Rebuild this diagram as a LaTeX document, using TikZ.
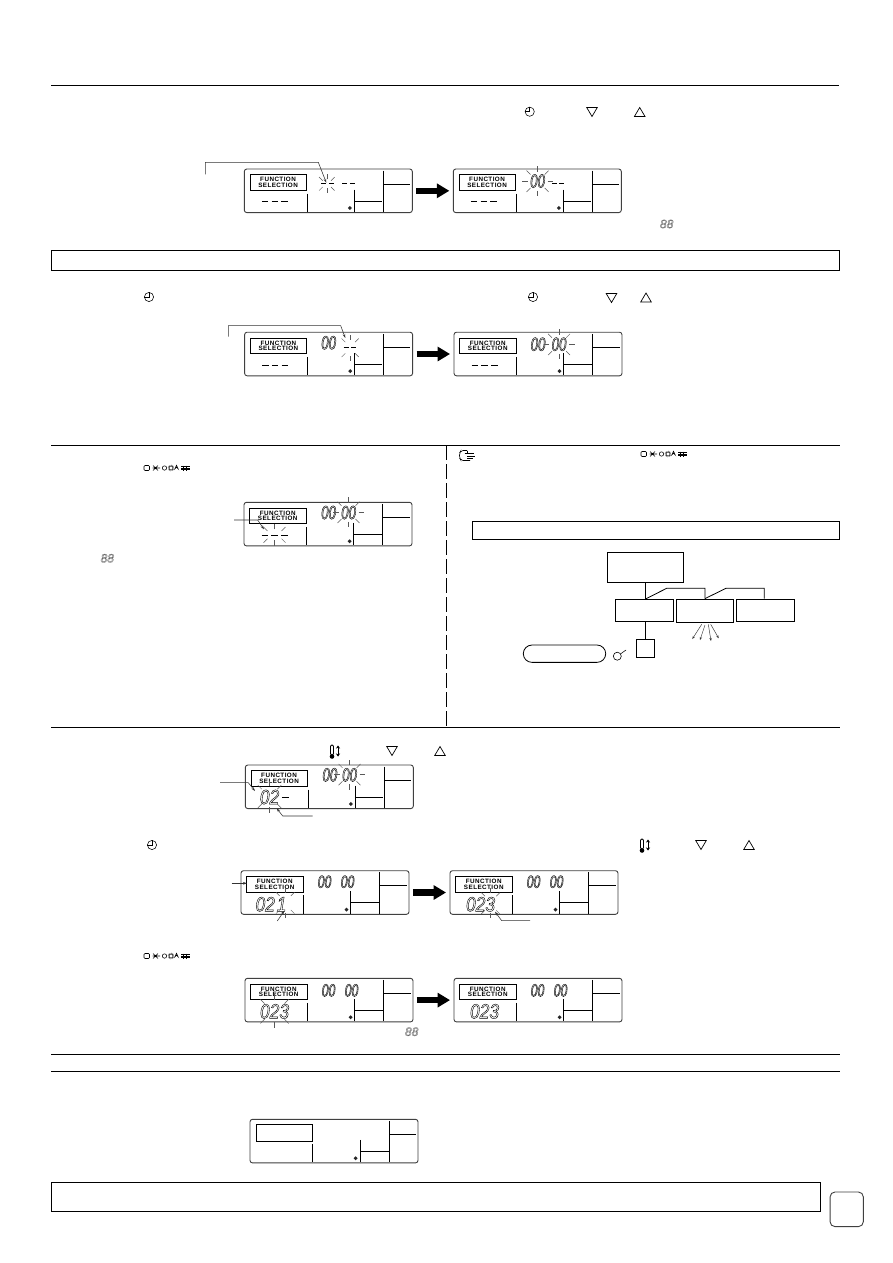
\documentclass[tikz,border=0pt]{standalone}
\usepackage{fontspec}
\setmainfont{Liberation Sans}
\newfontfamily\lcdfont[LetterSpace=7]{Liberation Sans}
\newfontfamily\segfont[FakeStretch=.70]{Liberation Sans}
\newfontfamily\segwide[FakeStretch=.85]{Liberation Sans}
\usetikzlibrary{arrows.meta,calc}
\newcommand{\hollow}[1]{\special{pdf:code q 1 Tr 0.42 w}#1\special{pdf:code Q}}
\newcommand{\hollowthin}[1]{\special{pdf:code q 1 Tr 0.3 w 0.35 G}#1\special{pdf:code Q}}
\tikzset{
  x=1pt,y=-1pt,
  rulel/.style={line width=.8pt,black},
  boxl/.style={draw=black,line width=.8pt},
  lcdbox/.style={draw=black!75,line width=.9pt,rounded corners=2.5pt,minimum width=168pt,minimum height=43.6pt,inner sep=0pt},
  lcdl/.style={line width=.7pt,black},
  fnbox/.style={draw=black,line width=.8pt,minimum width=56.3pt,minimum height=15.4pt,inner sep=0pt,
     align=center,font=\lcdfont\bfseries\fontsize{6.3}{5.5}\selectfont},
  seglarge/.style={inner sep=0pt,font=\segfont\itshape\fontsize{19}{19}\selectfont},
  segsmall/.style={inner sep=0pt,font=\segfont\itshape\fontsize{17.5}{17.5}\selectfont},
  seglow/.style={inner sep=0pt,font=\segwide\itshape\fontsize{20.5}{20.5}\selectfont},
  eightgray/.style={inner sep=0pt,font=\itshape\fontsize{12}{12}\selectfont},
  ray/.style={line width=.5pt,black!65},
  dashl/.style={line width=1pt,black},
  fatarrow/.style={line width=6.5pt,-{Triangle[length=12.5pt,width=14pt]},shorten <=3.5pt,shorten >=3.5pt},
  leader/.style={line width=.55pt,black!80,-{Stealth[length=4pt,width=2.6pt]}},
  flowbox/.style={draw=black,line width=.8pt,inner sep=0pt},
  flowl/.style={line width=.8pt,black},
  iconl/.style={line width=.55pt,black},
  thinarrow/.style={line width=.45pt,black!80,-{Stealth[length=3pt,width=2.2pt]}},
}
\newcommand{\allside}{0,45,90,135,180,225,270,315}
\newcommand{\noside}{45,90,135,225,270,315}
% blink rays: centre, half-widths, length, list of angles
\newcommand{\blink}[6][\allside]{%
  \foreach \ang in #1 {\draw[ray] ({#2+#4*cos(\ang)},{#3+#5*sin(\ang)}) -- ({#2+(#4+#6)*cos(\ang)},{#3+(#5+#6)*sin(\ang)});}}
% the body of the display, relative to its north-west corner
\newcommand{\lcdbody}[1]{%
  \draw[lcdl] (63,25) -- (63,43.6);
  \draw[lcdl] (110,21) -- (110,43.6);
  \draw[lcdl] (110,32.3) -- (138,32.3);
  \draw[lcdl] (139,2) -- (139,43.6);
  \draw[lcdl] (139,15.3) -- (166,15.3);
  \fill[black!85] (106,37.4) -- (108,39.4) -- (106,41.4) -- (104,39.4) -- cycle;
  \node[fnbox] (#1fn) at (34.2,14) {FUNCTION\\SELECTION};
}
\newcommand{\lcd}[3]{\node[lcdbox] (#1) at (#2+84,#3+21.8) {};}
\newcommand{\lcdnofn}[1]{%
  \draw[lcdl] (63,25) -- (63,43.6);
  \draw[lcdl] (111,21) -- (111,43.6);
  \draw[lcdl] (111,32.3) -- (139,32.3);
  \draw[lcdl] (140,2) -- (140,43.6);
  \draw[lcdl] (140,15.3) -- (166,15.3);
  \fill[black!85] (106,37.4) -- (108,39.4) -- (106,41.4) -- (104,39.4) -- cycle;
  \node[draw=black,line width=.8pt,minimum width=56.5pt,minimum height=16.4pt,inner sep=0pt] (#1fn) at (34.8,14) {};
}
\newcommand{\lowdash}{\draw[dashl] (18,33.3) -- +(6.5,0) (27.8,33.3) -- +(6.5,0) (37.5,33.3) -- +(6.5,0);}
\newcommand{\updash}[2]{\draw[dashl] (#1,#2) -- +(5,0) (#1+7.5,#2) -- +(5,0);}
\newcommand{\clock}[2]{\draw[iconl] (#1,#2) circle (4.6);
  \draw[iconl] (#1,#2-4.6) -- (#1,#2) -- (#1-4.6,#2);}
\newcommand{\tridown}[2]{\draw[iconl,line width=.7pt] (#1-5.3,#2-4.5) -- (#1+5.3,#2-4.5) -- (#1,#2+4.5) -- cycle;}
\newcommand{\triup}[2]{\draw[iconl,line width=.7pt] (#1-5.3,#2+4.5) -- (#1+5.3,#2+4.5) -- (#1,#2-4.5) -- cycle;}
\newcommand{\modeicons}[2]{%
  \begin{scope}[shift={(#1,#2)}]
    \draw[iconl,rounded corners=1pt] (0,-2.5) rectangle (5.5,2.5);
    \draw[iconl] (9,-2.5) -- (14,2.5) (14,-2.5) -- (9,2.5) (8.5,0) -- (16,0);
    \fill (11.5,0) circle (1.2);
    \draw[iconl] (20.5,0) circle (2.2);
    \draw[iconl] (27,0) circle (2);
    \draw[iconl,densely dotted] (27,0) circle (3);
    \draw[iconl] (32.5,-2.8) -- (34.2,1) arc (0:-180:1.7) -- cycle;
    \draw[iconl] (37,-1.5) -- (46,-1.5) (37,0) -- (46,0) (37,1.5) -- (46,1.5) (39,-2.5) -- (39,2.5) (42,-2.5) -- (42,2.5);
  \end{scope}}
\newcommand{\thermo}[2]{%
  \begin{scope}[shift={(#1,#2)}]
    \draw[iconl,line width=.8pt,rounded corners=1.2pt] (-4.5,-6) rectangle (-1.5,4);
    \fill (-3,5.5) circle (2.3);
    \draw[line width=.9pt,{Stealth[length=3pt,width=4pt]}-{Stealth[length=3pt,width=4pt]}] (3,-5.5) -- (3,5.5);
  \end{scope}}
\begin{document}
\begin{tikzpicture}
\useasboundingbox (0,0) rectangle (893,1263);
\fill[white] (0,0) rectangle (893,1263);
% rules and frames
\draw[rulel] (51,85.5) -- (839,85.5);
\node[boxl,minimum width=788pt,minimum height=20pt,inner sep=0pt] (bandA) at (445,260.3) {};
\draw[rulel] (51,445) -- (840,445);
\draw[rulel] (51,727) -- (840,727);
\draw[rulel] (51,1054.3) -- (840,1054.3);
\draw[rulel] (51,1071.3) -- (840,1071.3);
\draw[line width=1pt,dash pattern=on 15pt off 4pt] (446.7,445) -- (446.7,727);
\node[boxl,minimum width=366.8pt,minimum height=18.3pt,inner sep=0pt] (bandB) at (655.6,530.2) {};
\node[boxl,minimum width=769.5pt,minimum height=29.3pt,inner sep=0pt] (bandC) at (435.8,1196.7) {};
\node[draw=black!75,line width=.9pt,rounded corners=5pt,minimum width=33.3pt,minimum height=34.7pt,inner sep=0pt] (pagebox) at (846.7,1209.3) {};
% displays, row 1
\lcd{dA}{244.3}{169}
\lcd{dB}{453.3}{169}
\begin{scope}[shift={(dA.north west)}]
  \lcdbody{dA}\lowdash\updash{77.5}{15.3}\updash{98.5}{15.3}
  \blink[\noside]{83}{15.3}{6}{4.5}{5}
\end{scope}
\begin{scope}[shift={(dB.north west)}]
  \lcdbody{dB}\lowdash\updash{99}{15.3}
  \node[seglarge] (dBt) at (84.7,12.5) {\hollow{00}};
  \blink{84.7}{12.7}{10}{9.5}{5.5}
\end{scope}
\draw[fatarrow] (dA.east) -- (dB.west);
% row 2
\lcd{dC}{244.6}{332.2}
\lcd{dD}{454}{332.2}
\begin{scope}[shift={(dC.north west)}]
  \lcdbody{dC}\lowdash\updash{99.5}{15.5}
  \node[seglarge] (dCt) at (84.5,11) {\hollow{00}};
  \blink[\noside]{106}{16}{7}{8}{5}
\end{scope}
\begin{scope}[shift={(dD.north west)}]
  \lcdbody{dD}\lowdash
  \node[seglarge] (dDt) at (84.5,12.5) {\hollow{00}};
  \node[seglarge] (dDu) at (105.5,12.5) {\hollow{00}};
  \blink{105.5}{12.7}{10}{9.5}{5.5}
\end{scope}
\draw[fatarrow] (dC.east) -- (dD.west);
% row 3
\lcd{dE}{244}{502.3}
\begin{scope}[shift={(dE.north west)}]
  \lcdbody{dE}\lowdash
  \node[seglarge] (dEt) at (85,10.7) {\hollow{00}};
  \node[seglarge] (dEu) at (105,10.7) {\hollow{00}};
  \blink{105}{10.5}{10}{9.5}{5.5}
  \blink[\noside]{31}{33}{10}{5.5}{5.5}
\end{scope}
% row 4
\lcd{dF}{245.3}{765}
\begin{scope}[shift={(dF.north west)}]
  \lcdbody{dF}
  \node[seglarge] (dFt) at (85,10.3) {\hollow{00}};
  \node[seglarge] (dFu) at (104.7,10.3) {\hollow{00}};
  \blink{104.7}{10}{10}{9.5}{5.5}
  \node[seglow] (dFv) at (24.7,32.5) {\hollow{02}};
  \draw[dashl] (37,33.3) -- (43.7,33.3);
  \blink[\noside]{24.7}{32}{11}{10.5}{5.5}
\end{scope}
% row 5
\lcd{dG}{241}{870.7}
\lcd{dH}{450}{870.7}
\begin{scope}[shift={(dG.north west)}]
  \lcdbody{dG}
  \node[segsmall] (dGt) at (84,11.5) {\hollow{00}};
  \node[segsmall] (dGu) at (107,11.5) {\hollow{00}};
  \node[seglow] (dGv) at (24.7,34) {\hollow{02}};
  \node[seglow] (dGw) at (41,34) {\hollow{1}};
  \blink[\noside]{44.7}{32.7}{8}{10}{5}
\end{scope}
\begin{scope}[shift={(dH.north west)}]
  \lcdbody{dH}
  \node[segsmall] (dHt) at (84,11.5) {\hollow{00}};
  \node[segsmall] (dHu) at (107,11.5) {\hollow{00}};
  \node[seglow] (dHv) at (31,34) {\hollow{023}};
  \blink[\noside]{41}{33}{8}{10}{5}
\end{scope}
\draw[fatarrow] (dG.east) -- (dH.west);
% row 6
\lcd{dI}{245}{978.3}
\lcd{dJ}{454}{978.3}
\begin{scope}[shift={(dI.north west)}]
  \lcdbody{dI}
  \node[segsmall] (dIt) at (84,12.5) {\hollow{00}};
  \node[segsmall] (dIu) at (107,12.5) {\hollow{00}};
  \node[seglow] (dIv) at (30,33.5) {\hollow{023}};
  \blink[\noside]{30}{33.5}{14}{11}{6}
\end{scope}
\begin{scope}[shift={(dJ.north west)}]
  \lcdbody{dJ}
  \node[segsmall] (dJt) at (84,12.5) {\hollow{00}};
  \node[segsmall] (dJu) at (107,12.5) {\hollow{00}};
  \node[seglow] (dJv) at (31,33.5) {\hollow{023}};
\end{scope}
\draw[fatarrow] (dI.east) -- (dJ.west);
% row 7
\lcd{dK}{250}{1119.3}
\begin{scope}[shift={(dK.north west)}]
  \lcdnofn{dK}
\end{scope}
% leaders
\coordinate (la1) at (205.3,174.3);\coordinate (la2) at (205.3,162.3);\coordinate (la3) at (318.3,162.3);\coordinate (la4) at (326.3,182.7);
\draw[leader] (la1) -- (la2) -- (la3) -- (la4);
\coordinate (lb1) at (228.3,336.7);\coordinate (lb2) at (228.3,325.7);\coordinate (lb3) at (340.7,325.7);\coordinate (lb4) at (345.3,338);
\draw[leader] (lb1) -- (lb2) -- (lb3) -- (lb4);
\coordinate (lc1) at (234,520);\coordinate (lc2) at (257.7,520);\coordinate (lc3) at (264,529.3);
\draw[leader] (lc1) -- (lc2) -- (lc3);
\coordinate (ld1) at (220,782.7);\coordinate (ld2) at (248.3,782.7);\coordinate (ld3) at (255,791);
\draw[leader] (ld1) -- (ld2) -- (ld3);
\coordinate (le1) at (312.7,816);\coordinate (le2) at (282.7,816);\coordinate (le3) at (276.7,808.3);
\draw[leader] (le1) -- (le2) -- (le3);
\coordinate (lf1) at (231.7,883.3);\coordinate (lf2) at (247,883.3);
\draw[leader] (lf1) -- (lf2);
\coordinate (lg1) at (277.3,921);\coordinate (lg2) at (284.3,910.7);
\draw[leader] (lg1) -- (lg2);
\coordinate (lh1) at (530,920.7);\coordinate (lh2) at (501.7,920.7);\coordinate (lh3) at (495,911.7);
\draw[leader] (lh1) -- (lh2) -- (lh3);
% button icons
\clock{529.7}{111.7}\tridown{592}{112}\triup{639.7}{112}
\clock{149}{297}\clock{533}{297}\tridown{611.5}{298}\triup{646}{297.5}
\thermo{335}{751}\tridown{392}{751}\triup{440}{751}
\clock{152}{845}\thermo{645}{845}\tridown{701}{845}\triup{749}{845}
\modeicons{144}{468}\modeicons{641}{454}\modeicons{144}{956}
% the hand
\begin{scope}[shift={(459,450)}]
  \draw[iconl,rounded corners=2pt] (8,0.5) -- (2,0.5) -- (0.5,3) -- (0.5,8) -- (2,10.5) -- (11,10.5);
  \draw[iconl] (8,0.5) -- (8,3.5) (5.5,3.5) -- (15,3.5) (8,6) -- (16,6) (8,8.5) -- (14,8.5);
\end{scope}
% the gray 88 marks
\node[eightgray] (eA) at (666.7,224) {\hollowthin{88}};
\node[eightgray] (eB) at (107.3,558.3) {\hollowthin{88}};
\node[eightgray] (eC) at (411.7,1031.7) {\hollowthin{88}};
% flow diagram
\node[flowbox,minimum width=75.6pt,minimum height=30pt] (ctrl) at (645.5,567.3) {};
\node[flowbox,minimum width=57.6pt,minimum height=22.7pt] (unitA) at (644.5,610.4) {};
\node[flowbox,minimum width=57.4pt,minimum height=23pt] (unitB) at (705,610.5) {};
\node[flowbox,minimum width=57.7pt,minimum height=22.7pt] (unitC) at (765.2,610.4) {};
\node[flowbox,minimum width=17.3pt,minimum height=17.7pt] (sens) at (645.3,648.2) {};
\node[draw=black,line width=.8pt,rounded corners=8.6pt,minimum width=82.4pt,minimum height=17.3pt,inner sep=0pt] (pill) at (564.5,653.7) {};
\coordinate (swA) at (645.5,599);\coordinate (swB) at (666.7,588.3);\coordinate (swC) at (705,588.3);
\coordinate (swD) at (726,588.3);\coordinate (swE) at (764.3,588.3);
\draw[flowl] (ctrl.south) -- (swA);
\draw[flowl] (swA) -- (swB) -- (swC) -- (unitB.north);
\draw[flowl] (unitB.north) -- (swD) -- (swE) -- (unitC.north -| swE);
\draw[flowl] (unitA.south -| sens.north) -- (sens.north);
% air-flow arrows
\coordinate (aA) at (692.3,639);\coordinate (aB) at (700,640);\coordinate (aC) at (711,641);\coordinate (aD) at (718.7,638.3);
\coordinate (aS1) at (701.7,624.3);\coordinate (aS2) at (705,625);\coordinate (aS3) at (708.3,624.3);\coordinate (aS4) at (710.7,624.3);
\draw[thinarrow] (aS1) -- (aA);
\draw[thinarrow] (aS2) -- (aB);
\draw[thinarrow] (aS3) -- (aC);
\draw[thinarrow] (aS4) -- (aD);
% remote sensor icon
\node[draw=black,line width=.6pt,circle,minimum size=8pt,inner sep=0pt] (senseic) at (617.3,656.2) {};
\coordinate (senseend) at (626,650);
\draw[iconl] (senseic) -- (senseend);
\end{tikzpicture}
\end{document}
